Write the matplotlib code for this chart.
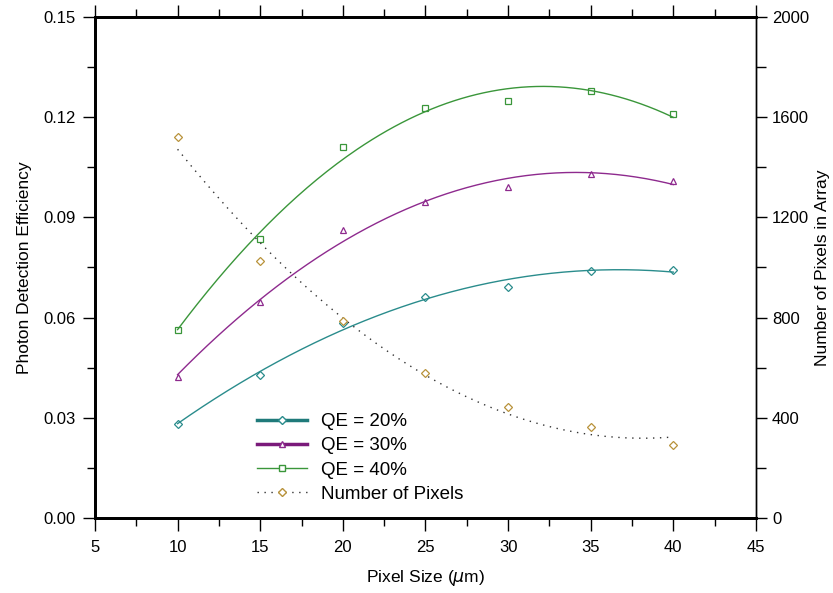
import numpy as np
import matplotlib
matplotlib.use('Agg')
from matplotlib import pyplot as plt
from matplotlib.lines import Line2D
from matplotlib.ticker import MultipleLocator

plt.rcParams['font.family'] = ['Liberation Sans', 'DejaVu Sans']

# pixel size in micrometres
pixel_size = [10, 15, 20, 25, 30, 35, 40]

# photon detection efficiency for each quantum efficiency
pde_qe20 = [0.0281, 0.0428, 0.0585, 0.0662, 0.0692, 0.0740, 0.0743]
pde_qe30 = [0.0422, 0.0647, 0.0862, 0.0946, 0.0991, 0.1030, 0.1009]
pde_qe40 = [0.0563, 0.0835, 0.1111, 0.1228, 0.1249, 0.1278, 0.1210]

# number of pixels in the array (right axis)
n_pixels = [1521, 1026, 786, 579, 443, 363, 291]

teal = '#2a8c8c'
purple = '#8e2a8e'
green = '#3a963a'
tan = '#b8923a'


def _fit(x, y, deg=2):
    """Quadratic regression curve through the points"""
    coef = np.polyfit(x, y, deg)
    xs = np.linspace(min(x), max(x), 200)
    return xs, np.polyval(coef, xs)


fig = plt.figure(figsize=(8.33, 5.93), dpi=100)
ax = fig.add_axes([0.114, 0.1265, 0.7935, 0.845])
ax2 = ax.twinx()

for vals, col, mk in [(pde_qe20, teal, 'D'), (pde_qe30, purple, '^'),
                      (pde_qe40, green, 's')]:
    xs, ys = _fit(pixel_size, vals)
    ax.plot(xs, ys, color=col, lw=1.0)
    ax.plot(pixel_size, vals, ls='none', marker=mk, ms=4.5 if mk == 'D' else 5,
            mfc='none', mec=col, mew=0.9)

xs, ys = _fit(pixel_size, n_pixels)
ax2.plot(xs, ys, color='#333333', lw=1.0, ls=(0, (1, 4)))
ax2.plot(pixel_size, n_pixels, ls='none', marker='D', ms=4.5, mfc='white',
         mec=tan, mew=0.9)

ax.set_xlim(5, 45)
ax.set_ylim(0, 0.15)
ax2.set_ylim(0, 2000)

ax.xaxis.set_major_locator(MultipleLocator(5))
ax.xaxis.set_minor_locator(MultipleLocator(2.5))
ax.yaxis.set_major_locator(MultipleLocator(0.03))
ax.yaxis.set_minor_locator(MultipleLocator(0.015))
ax.yaxis.set_major_formatter(plt.FormatStrFormatter('%.2f'))
ax2.yaxis.set_major_locator(MultipleLocator(400))
ax2.yaxis.set_minor_locator(MultipleLocator(200))

ax.tick_params(axis='x', which='both', direction='out', top=True, labelsize=12,
               color='black')
ax.tick_params(axis='x', which='major', length=9, width=1.0, pad=7)
ax.tick_params(axis='x', which='minor', length=6, width=1.0)
ax.tick_params(axis='y', which='major', length=9, width=1.0, labelsize=12,
               pad=5)
ax.tick_params(axis='y', which='minor', length=6, width=1.0)
ax2.tick_params(axis='y', which='major', length=8, width=1.0, labelsize=12)
ax2.tick_params(axis='y', which='minor', length=7, width=1.0)

for side in ['left', 'bottom', 'top']:
    ax.spines[side].set_linewidth(2.0)
    ax2.spines[side].set_linewidth(2.0)
ax.spines['right'].set_linewidth(1.0)
ax2.spines['right'].set_linewidth(1.0)

ax.set_xlabel('Pixel Size ($\\mu$m)', fontsize=12.5, labelpad=9)
ax.set_ylabel('Photon Detection Efficiency', fontsize=12.5, labelpad=8)
ax2.set_ylabel('Number of Pixels in Array', fontsize=12.5, labelpad=4)

handles = [
    Line2D([], [], color='#1f7a7a', lw=2.5, marker='D', ms=4, mfc='white',
           mec=teal),
    Line2D([], [], color='#7a1a7a', lw=2.5, marker='^', ms=5, mfc='white',
           mec=purple),
    Line2D([], [], color=green, lw=1.0, marker='s', ms=5, mfc='white',
           mec=green),
    Line2D([], [], color='#333333', lw=1.0, ls=(0, (1, 4)), marker='D', ms=4.5,
           mfc='white', mec=tan),
]
labels = ['QE = 20%', 'QE = 30%', 'QE = 40%', 'Number of Pixels']
leg = ax2.legend(handles, labels, loc='lower left', bbox_to_anchor=(0.222, 0.0),
                 fontsize=13.5, frameon=True, framealpha=1, edgecolor='none',
                 fancybox=False, handlelength=2.7, handletextpad=0.75,
                 labelspacing=0.38, borderpad=0.3)
leg.get_frame().set_linewidth(0)

fig.savefig('out.png', dpi=100)
